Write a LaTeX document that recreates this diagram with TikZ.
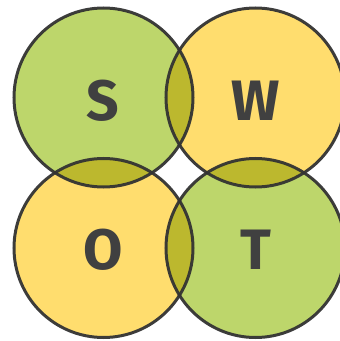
\documentclass[tikz,border=0pt]{standalone}
\usepackage{fontspec}
\setmainfont{Fira Sans}
\definecolor{sgreen}{HTML}{BDD66B}
\definecolor{syellow}{HTML}{FFDD6E}
\definecolor{solive}{HTML}{BCB82E}
\definecolor{sline}{HTML}{333333}
\definecolor{stext}{HTML}{404040}
\begin{document}
\begin{tikzpicture}[x=1pt,y=1pt,
  ring/.style={draw=sline,draw opacity=0.95,line width=3pt},
  letter/.style={anchor=base,text=stext,font=\fontsize{57}{57}\selectfont\bfseries,inner sep=0pt}]
\useasboundingbox (0,0) rectangle (340,341);
\coordinate (cS) at (103.5,243.5);
\coordinate (cW) at (255.5,243.5);
\coordinate (cO) at (103.5,93);
\coordinate (cT) at (255.5,93);
\def\R{89.5}
\fill[sgreen] (cS) circle (\R);
\fill[syellow] (cW) circle (\R);
\fill[syellow] (cO) circle (\R);
\fill[sgreen] (cT) circle (\R);
\begin{scope}\clip (cS) circle (\R); \fill[solive] (cW) circle (\R); \fill[solive] (cO) circle (\R); \end{scope}
\begin{scope}\clip (cT) circle (\R); \fill[solive] (cW) circle (\R); \fill[solive] (cO) circle (\R); \end{scope}
\draw[ring] (cS) circle (\R);
\draw[ring] (cW) circle (\R);
\draw[ring] (cO) circle (\R);
\draw[ring] (cT) circle (\R);
\node[letter] (S) at (103,220) {S};
\node[letter] (W) at (255.5,220) {W};
\node[letter] (O) at (103,71) {O};
\node[letter] (T) at (255.5,71) {T};
\end{tikzpicture}
\end{document}
